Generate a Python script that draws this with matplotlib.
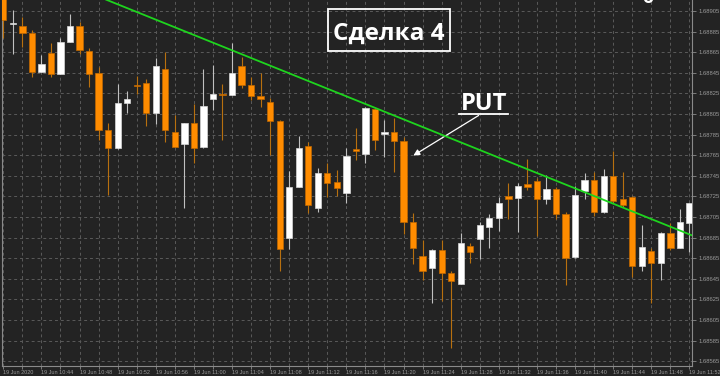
import matplotlib
matplotlib.use('Agg')
import matplotlib.pyplot as plt
from matplotlib.patches import Rectangle

# 1-minute candles, 19 Jun 2020, 10:40 ... 11:52
opens = [1.68919, 1.68892, 1.68890, 1.68884, 1.68846, 1.68864, 1.68844, 1.68875, 1.68890, 1.68866,
         1.68845, 1.68789, 1.68772, 1.68816, 1.68833, 1.68835, 1.68806, 1.68849, 1.68788, 1.68776,
         1.68796, 1.68773, 1.68820, 1.68824, 1.68823, 1.68852, 1.68833, 1.68822, 1.68817, 1.68798,
         1.68685, 1.68734, 1.68774, 1.68714, 1.68748, 1.68739, 1.68728, 1.68771, 1.68766, 1.68810,
         1.68786, 1.68788, 1.68779, 1.68700, 1.68667, 1.68655, 1.68673, 1.68651, 1.68640, 1.68677,
         1.68684, 1.68695, 1.68704, 1.68725, 1.68723, 1.68737, 1.68740, 1.68722, 1.68732, 1.68708,
         1.68666, 1.68730, 1.68741, 1.68710, 1.68745, 1.68722, 1.68724, 1.68657, 1.68672, 1.68660,
         1.68689, 1.68675, 1.68699]
highs = [1.68924, 1.68906, 1.68899, 1.68887, 1.68862, 1.68874, 1.68879, 1.68902, 1.68894, 1.68869,
         1.68851, 1.68796, 1.68834, 1.68827, 1.68842, 1.68839, 1.68859, 1.68865, 1.68804, 1.68796,
         1.68815, 1.68849, 1.68853, 1.68834, 1.68874, 1.68860, 1.68841, 1.68845, 1.68821, 1.68799,
         1.68750, 1.68784, 1.68778, 1.68753, 1.68757, 1.68751, 1.68772, 1.68791, 1.68812, 1.68811,
         1.68799, 1.68801, 1.68783, 1.68709, 1.68683, 1.68674, 1.68683, 1.68653, 1.68689, 1.68680,
         1.68700, 1.68708, 1.68724, 1.68738, 1.68738, 1.68761, 1.68743, 1.68746, 1.68734, 1.68710,
         1.68735, 1.68748, 1.68749, 1.68752, 1.68769, 1.68749, 1.68725, 1.68697, 1.68675, 1.68690,
         1.68699, 1.68713, 1.68719]
lows = [1.68879, 1.68863, 1.68870, 1.68841, 1.68846, 1.68841, 1.68844, 1.68875, 1.68863, 1.68831,
        1.68780, 1.68726, 1.68771, 1.68806, 1.68824, 1.68793, 1.68795, 1.68778, 1.68773, 1.68714,
        1.68757, 1.68772, 1.68809, 1.68780, 1.68823, 1.68830, 1.68819, 1.68812, 1.68765, 1.68653,
        1.68674, 1.68734, 1.68709, 1.68710, 1.68724, 1.68725, 1.68719, 1.68760, 1.68757, 1.68770,
        1.68763, 1.68749, 1.68688, 1.68659, 1.68644, 1.68621, 1.68623, 1.68578, 1.68640, 1.68660,
        1.68664, 1.68675, 1.68691, 1.68703, 1.68690, 1.68731, 1.68687, 1.68718, 1.68703, 1.68639,
        1.68665, 1.68722, 1.68706, 1.68709, 1.68719, 1.68715, 1.68647, 1.68653, 1.68621, 1.68644,
        1.68673, 1.68675, 1.68671]
closes = [1.68896, 1.68893, 1.68884, 1.68846, 1.68854, 1.68844, 1.68875, 1.68890, 1.68867, 1.68844,
          1.68789, 1.68772, 1.68816, 1.68820, 1.68832, 1.68806, 1.68852, 1.68789, 1.68773, 1.68796,
          1.68772, 1.68813, 1.68824, 1.68823, 1.68845, 1.68833, 1.68822, 1.68820, 1.68798, 1.68674,
          1.68734, 1.68772, 1.68717, 1.68748, 1.68738, 1.68733, 1.68764, 1.68769, 1.68811, 1.68780,
          1.68786, 1.68779, 1.68700, 1.68675, 1.68653, 1.68673, 1.68651, 1.68643, 1.68680, 1.68671,
          1.68697, 1.68704, 1.68719, 1.68722, 1.68735, 1.68734, 1.68722, 1.68732, 1.68708, 1.68665,
          1.68726, 1.68741, 1.68710, 1.68745, 1.68721, 1.68717, 1.68657, 1.68676, 1.68660, 1.68689,
          1.68675, 1.68700, 1.68719]

time_labels = ['19 Jun 2020', '19 Jun 10:44', '19 Jun 10:48', '19 Jun 10:52', '19 Jun 10:56',
               '19 Jun 11:00', '19 Jun 11:04', '19 Jun 11:08', '19 Jun 11:12', '19 Jun 11:16',
               '19 Jun 11:20', '19 Jun 11:24', '19 Jun 11:28', '19 Jun 11:32', '19 Jun 11:36',
               '19 Jun 11:40', '19 Jun 11:44', '19 Jun 11:48', '19 Jun 11:52']
price_ticks = [1.68565, 1.68585, 1.68605, 1.68625, 1.68645, 1.68665, 1.68685, 1.68705, 1.68725,
               1.68745, 1.68765, 1.68785, 1.68805, 1.68825, 1.68845, 1.68865, 1.68885, 1.68905]

# trend line (candle index, price)
trend_x = [10.8, 72.3]
trend_y = [1.68916, 1.68687]

BG = '#232323'
ORANGE = '#ff8c00'

fig = plt.figure(figsize=(7.2, 3.76), dpi=100, facecolor=BG)
ax = fig.add_axes([1.7 / 720, 10 / 376, 690.3 / 720, 366 / 376], facecolor=BG)

n = len(opens)
for i in range(n):
    o, h, l, c = opens[i], highs[i], lows[i], closes[i]
    up = c >= o and i not in (14, 23)
    wick = '#c0c0c0' if up else '#b8700f'
    ax.vlines(i, l, h, color=wick, lw=0.8, zorder=3)
    body = max(abs(c - o), 0.000016)
    ax.bar(i, body, bottom=min(o, c), width=0.66,
           color='white' if up else ORANGE,
           edgecolor='#d8d8d8' if up else '#c06800', lw=0.5, zorder=4)

ax.plot(trend_x, trend_y, color='#1ed41e', lw=1.3, zorder=5)

ax.set_xlim(-0.17, 72.27)
ax.set_ylim(1.685603, 1.689157)

ax.set_xticks(list(range(0, n, 4)))
ax.set_xticks(list(range(2, n, 4)), minor=True)
ax.set_xticklabels(time_labels, ha='left', fontsize=4, color='#9a9a9a', family='Liberation Sans')
ax.set_yticks(price_ticks)
ax.set_yticklabels(['%.5f' % v for v in price_ticks], fontsize=4.2, color='#9a9a9a',
                   family='Liberation Sans')
ax.yaxis.tick_right()
ax.tick_params(axis='y', length=3, pad=1.5, color='#8a8a8a', width=0.6)
ax.tick_params(axis='x', which='both', length=2, pad=1.2, color='#8a8a8a', width=0.6)

ax.grid(True, which='both', color='#5a5a5a', ls=(0, (3, 3)), lw=0.7, zorder=0)

for s in ['left', 'bottom', 'right']:
    ax.spines[s].set_color('#8a8a8a')
    ax.spines[s].set_linewidth(0.8)
ax.spines['top'].set_visible(False)

# title box
fig.patches.append(Rectangle((327.5 / 720, 1 - 50.7 / 376), 122 / 720, 41.7 / 376,
                             transform=fig.transFigure, fill=False, ec='white', lw=1.3))
fig.text(389 / 720, 1 - 40 / 376, 'Сделка 4', color='white', fontsize=17.5,
         family='Open Sans', weight='bold', ha='center', va='baseline')

# PUT annotation
fig.text(461 / 720, 1 - 110 / 376, 'PUT', color='white', fontsize=17,
         family='Open Sans', weight='bold', ha='left', va='baseline')
fig.lines.append(plt.Line2D([459 / 720, 508 / 720], [1 - 114 / 376, 1 - 114 / 376],
                            transform=fig.transFigure, color='white', lw=1.3))
ax.annotate('', xy=(411 / 720, 1 - 157 / 376), xytext=(481 / 720, 1 - 114 / 376),
            xycoords='figure fraction', textcoords='figure fraction',
            arrowprops=dict(arrowstyle='-|>', color='white', lw=0.9, mutation_scale=9))

# cut-off text at the top right edge
fig.text(648 / 720, 1 - 2.7 / 376, 'o', color='white', fontsize=13,
         family='Open Sans', weight='bold', ha='center', va='baseline')

fig.savefig('out.png', dpi=100, facecolor=BG)
